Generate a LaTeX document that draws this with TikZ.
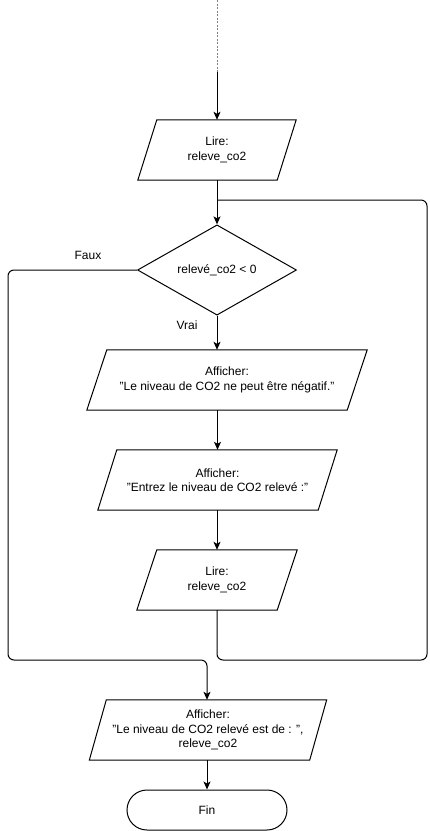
\documentclass[tikz,border=0pt]{standalone}
\usepackage{fontspec}
\setmainfont{Liberation Sans}
\usetikzlibrary{shapes.geometric,arrows.meta,calc}
\newcommand\drawpara[2]{\draw[line width=1pt] ([xshift=#2]#1.north west) -- (#1.north east) -- ([xshift=-#2]#1.south east) -- (#1.south west) -- cycle;}
\begin{document}
\begin{tikzpicture}[x=1pt,y=-1pt,
  every node/.style={font=\fontsize{12}{14.5}\selectfont, align=center, inner sep=0pt},
  parabox/.style={rectangle, minimum height=60pt},
  decbox/.style={diamond, draw, line width=1pt, minimum width=159pt, minimum height=80pt},
  endbox/.style={rectangle, draw, line width=1pt, rounded corners=20pt, minimum width=160pt, minimum height=40pt},
  conn/.style={line width=1pt, -{Stealth[length=8pt,width=7pt,inset=2pt]}},
  plainline/.style={line width=1pt},
  lbl/.style={font=\fontsize{12}{14.5}\selectfont}]
\useasboundingbox (0,0) rectangle (429,831);

\coordinate (top) at (217,0);
\coordinate (mid) at (217,72);

\node[parabox, minimum width=158pt] (lire1) at (217,150) {Lire:\\releve\_co2};
\node[decbox] (dia) at (217,270) {relevé\_co2 \textless{} 0};
\node[parabox, minimum width=280pt] (aff1) at (227,380) {Afficher:\\"Le niveau de CO2 ne peut être négatif."};
\node[parabox, minimum width=239pt] (aff2) at (217.5,480) {Afficher:\\"Entrez le niveau de CO2 relevé :"};
\node[parabox, minimum width=160pt] (lire2) at (217,580) {Lire:\\releve\_co2};
\node[parabox, minimum width=237pt] (aff3) at (208,730) {Afficher:\\"Le niveau de CO2 relevé est de : ",\\releve\_co2};
\node[endbox] (fin) at (207,810) {Fin};

\drawpara{lire1}{19}
\drawpara{aff1}{20}
\drawpara{aff2}{19}
\drawpara{lire2}{20}
\drawpara{aff3}{17}

\node[lbl] (faux) at (88,255) {Faux};
\node[lbl] (vrai) at (187,325) {Vrai};

\coordinate (join) at (217,200);
\coordinate (rt) at (427,200);
\coordinate (rb) at (427,660);
\coordinate (lt) at (8,270);
\coordinate (lm) at (207,660);

% incoming
\draw[plainline, dashed, dash pattern=on 2pt off 1.5pt, gray] (top) -- (mid);
\draw[conn] (mid) -- (lire1.north);

\draw[conn] (lire1.south) -- (dia.north);
\draw[conn] (dia.south) -- (dia.south |- aff1.north);
\draw[conn] (aff1.south -| aff2.north) -- (aff2.north);
\draw[conn] (aff2.south -| lire2.north) -- (lire2.north);

% loop back
\draw[plainline, rounded corners=6pt] (lire2.south) |- (rb) -- (rt) -- (join);

% false branch
\draw[conn, rounded corners=6pt] (dia.west) -- (lt) |- (lm) -- (lm |- aff3.north);

\draw[conn] (aff3.south -| fin.north) -- (fin.north);
\end{tikzpicture}
\end{document}
